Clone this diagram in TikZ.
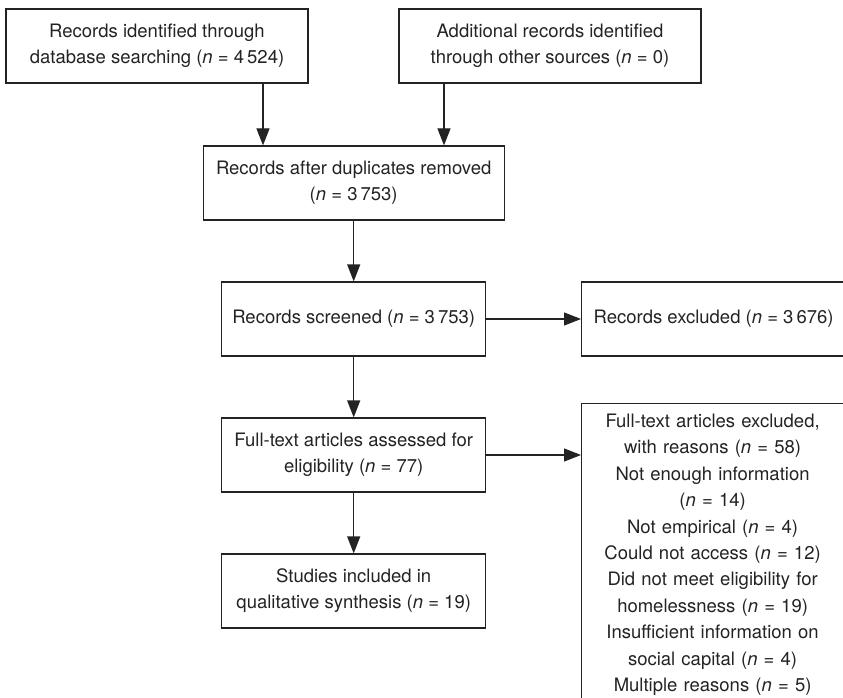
\documentclass[tikz,border=0pt]{standalone}
\usepackage{fontspec}
\setmainfont{TeX Gyre Heros}
\usetikzlibrary{arrows.meta}
\definecolor{ink}{RGB}{35,35,35}
\tikzset{
  x=1pt,y=-1pt,
  boxnode/.style={draw=ink,line width=1.2pt,align=center,inner sep=0pt,
    font=\fontsize{18.5pt}{26pt}\selectfont,text=ink},
  wide/.style={boxnode,minimum width=302pt,minimum height=74pt},
  mid/.style={boxnode,minimum width=264pt,minimum height=74pt},
  arr/.style={draw=ink,line width=1.2pt,-{Triangle[length=17pt,width=13pt]}},
}
\newcommand{\nn}{\textit{n}}
\begin{document}
\begin{tikzpicture}
\useasboundingbox (0,0) rectangle (843,698);
\node[wide] (b1) at (157,46) {Records identified through\\database searching (\nn{} = 4\,524)};
\node[wide] (b2) at (550,46) {Additional records identified\\through other sources (\nn{} = 0)};
\node[wide,minimum width=301pt] (b3) at (353.7,183) {Records after duplicates removed\\(\nn{} = 3\,753)};
\node[mid] (b4) at (353.7,319) {Records screened (\nn{} = 3\,753)};
\node[mid,anchor=west] (b5) at (581,319) {Records excluded (\nn{} = 3\,676)};
\node[mid] (b6) at (353.7,455) {Full-text articles assessed for\\eligibility (\nn{} = 77)};
\node[mid] (b8) at (353.7,591) {Studies included in\\qualitative synthesis (\nn{} = 19)};
\node[boxnode,anchor=north west,text width=262pt,inner ysep=10.5pt,
  font=\fontsize{18.5pt}{26.4pt}\selectfont] (b7) at (581,403)
  {Full-text articles excluded,\\with reasons (\nn{} = 58)\\Not enough information\\(\nn{} = 14)\\Not empirical (\nn{} = 4)\\Could not access (\nn{} = 12)\\Did not meet eligibility for\\homelessness (\nn{} = 19)\\Insufficient information on\\social capital (\nn{} = 4)\\Multiple reasons (\nn{} = 5)};
\coordinate (cl) at (263,0);
\coordinate (cr) at (444,0);
\draw[arr] (b1.south -| cl) -- (b3.north -| cl);
\draw[arr] (b2.south -| cr) -- (b3.north -| cr);
\draw[arr] (b3) -- (b4);
\draw[arr] (b4) -- (b6);
\draw[arr] (b6) -- (b8);
\draw[arr] (b4) -- (b5);
\draw[arr] (b6.east) -- (b6.east -| b7.west);
\end{tikzpicture}
\end{document}
